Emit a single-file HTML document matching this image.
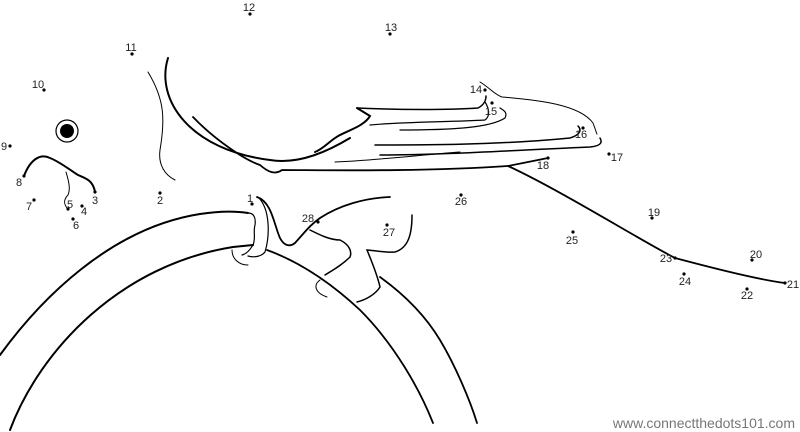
<!DOCTYPE html>
<html><head><style>
body{margin:0;background:#fff;width:800px;height:432px;overflow:hidden}
svg{position:absolute;left:0;top:0}
text{font-family:"Liberation Sans",sans-serif;font-size:11px;fill:#222}
</style></head><body>
<svg width="800" height="432" viewBox="0 0 800 432">
<g fill="none" stroke="#000" stroke-linecap="round">
<!-- perch -->
<path d="M0,355 C40,300 110,228 200,214 C220,211 235,211 248,213" stroke-width="2"/>
<path d="M10,430 C40,350 120,265 233,247 L253,245" stroke-width="2"/>
<path d="M267,250 C300,262 330,282 360,310 C395,345 420,390 433,423" stroke-width="1.8"/>
<path d="M380,277 C405,295 425,315 440,340 C455,365 470,400 477,423" stroke-width="1.8"/>
<!-- body -->
<path d="M168,58 C155,100 190,150 270,160 C300,165 330,150 350,138" stroke-width="2"/>
<path d="M148,72 C165,100 165,120 160,150 C158,165 165,175 175,180" stroke-width="1"/>
<path d="M193,117 C215,140 245,160 260,165 C268,172 275,175 282,170 C320,170 420,172 508,166 L548,158" stroke-width="1.8"/>
<!-- wing -->
<path d="M357,108 L370,116 C365,125 350,130 340,135 C330,140 325,148 315,152" stroke-width="2"/>
<path d="M357,108 C400,110 450,110 478,108 C484,105 486,100 486,96" stroke-width="1.5"/>
<path d="M480,82 C490,88 495,95 502,97 C540,100 580,105 593,123 C595,128 596,132 597,134" stroke-width="1"/>
<path d="M370,125 C400,122 450,122 485,120 C492,115 487,105 485,102" stroke-width="1.2"/>
<path d="M400,130 C450,130 490,128 505,118 C508,112 503,110 500,108" stroke-width="1.2"/>
<path d="M375,145 C420,145 500,145 570,138 C580,135 582,130 578,126" stroke-width="1.5"/>
<path d="M380,155 C440,155 520,150 590,147 C600,146 603,143 600,138" stroke-width="1.5"/>
<path d="M335,162 C380,160 420,155 460,152" stroke-width="1"/>
<!-- tail -->
<path d="M508,166 C560,190 640,240 675,258 C720,270 760,280 785,283" stroke-width="1.8"/>
<!-- foot -->
<path d="M257,197 C272,202 274,225 280,238 C284,246 290,247 295,243 C305,232 310,225 320,218 C340,205 365,198 390,197" stroke-width="1.8"/>
<path d="M248,213 C254,213 256,218 255,225 C253,232 256,238 253,245 C250,250 246,254 242,255" stroke-width="1.2"/>
<path d="M259,198 C270,210 270,235 265,252 C262,256 255,258 248,256" stroke-width="1.2"/>
<path d="M232,250 C232,258 238,265 248,265" stroke-width="1"/>
<path d="M310,230 C320,235 330,240 340,240 C350,245 352,252 350,257 C342,265 333,270 325,275" stroke-width="1.5"/>
<path d="M412,215 C412,235 408,248 395,252 C385,253 372,250 367,250 C372,262 378,278 380,287 C375,295 365,300 357,302" stroke-width="1.5"/>
<path d="M320,280 C313,285 315,293 327,297" stroke-width="1"/>
<!-- beak -->
<path d="M24,176 C30,160 40,153 50,158 C60,162 70,170 78,175 C85,178 93,180 95,192" stroke-width="2"/>
<path d="M66,172 C70,185 70,190 68,195 C63,200 64,205 68,209" stroke-width="1"/>
<!-- eye -->
<circle cx="67" cy="131" r="11" stroke-width="1.2"/>
</g>
<circle cx="67" cy="131" r="7" fill="#000"/>
<g fill="#000">
<circle cx="252" cy="204" r="1.6"/><circle cx="160" cy="193" r="1.6"/><circle cx="95" cy="192" r="1.6"/>
<circle cx="82" cy="206" r="1.6"/><circle cx="68" cy="209" r="1.6"/><circle cx="73" cy="219" r="1.6"/>
<circle cx="34" cy="200" r="1.6"/><circle cx="24" cy="176" r="1.6"/><circle cx="10" cy="146" r="1.6"/>
<circle cx="44" cy="90" r="1.6"/><circle cx="132" cy="54" r="1.6"/><circle cx="250" cy="14" r="1.6"/>
<circle cx="390" cy="34" r="1.6"/><circle cx="485" cy="90" r="1.6"/><circle cx="492" cy="103" r="1.6"/>
<circle cx="583" cy="128" r="1.6"/><circle cx="609" cy="154" r="1.6"/><circle cx="548" cy="158" r="1.6"/>
<circle cx="652" cy="218" r="1.6"/><circle cx="752" cy="260" r="1.6"/><circle cx="785" cy="283" r="1.6"/>
<circle cx="747" cy="289" r="1.6"/><circle cx="675" cy="258" r="1.6"/><circle cx="684" cy="274" r="1.6"/>
<circle cx="573" cy="232" r="1.6"/><circle cx="461" cy="195" r="1.6"/><circle cx="387" cy="225" r="1.6"/>
<circle cx="318" cy="222" r="1.6"/>
</g>
<g text-anchor="middle">
<text x="250" y="202">1</text><text x="160" y="204">2</text><text x="95" y="204">3</text>
<text x="84" y="215">4</text><text x="70" y="208">5</text><text x="76" y="229">6</text>
<text x="29" y="210">7</text><text x="19" y="186">8</text><text x="4" y="150">9</text>
<text x="38" y="88">10</text><text x="131" y="51">11</text><text x="249" y="11">12</text>
<text x="391" y="31">13</text><text x="476" y="93">14</text><text x="491" y="115">15</text>
<text x="581" y="138">16</text><text x="617" y="161">17</text><text x="543" y="169">18</text>
<text x="654" y="216">19</text><text x="756" y="258">20</text><text x="793" y="288">21</text>
<text x="747" y="299">22</text><text x="666" y="262">23</text><text x="685" y="285">24</text>
<text x="572" y="244">25</text><text x="461" y="205">26</text><text x="389" y="236">27</text>
<text x="308" y="222">28</text>
</g>
<text x="795" y="428" text-anchor="end" style="font-size:14px;fill:#777">www.connectthedots101.com</text>
</svg>
</body></html>
